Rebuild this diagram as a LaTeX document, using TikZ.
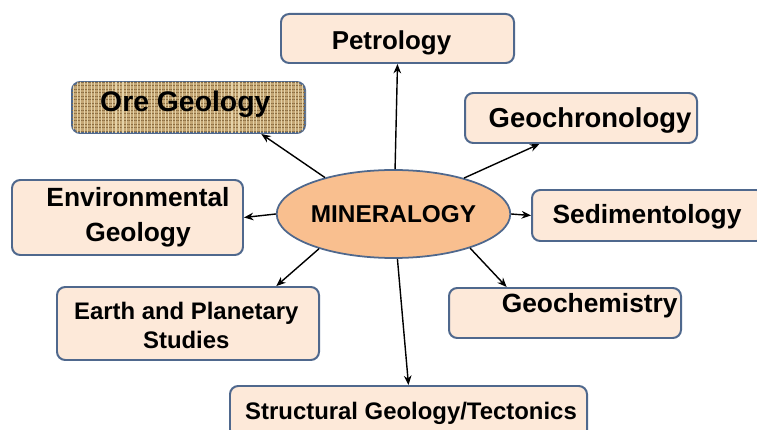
\documentclass[tikz,border=0pt]{standalone}
\usepackage{fontspec}
\setmainfont{Liberation Sans}
\usetikzlibrary{arrows.meta,shapes.geometric,patterns.meta}

\newlength\px
\setlength\px{0.03cm}

\definecolor{boxfill}{RGB}{253,233,217}
\definecolor{boxline}{RGB}{79,104,141}
\definecolor{ovalfill}{RGB}{249,191,143}
\definecolor{burlap}{RGB}{196,166,116}
\definecolor{burlapdark}{RGB}{140,110,66}
\definecolor{burlaplight}{RGB}{228,210,168}

\begin{document}
\begin{tikzpicture}[
  x=0.03cm, y=-0.03cm,
  topicbox/.style={rectangle, rounded corners=7pt, draw=boxline, line width=1.7pt, fill=boxfill, inner sep=0pt},
  orebox/.style={topicbox, fill=burlap,
    postaction={pattern={Lines[angle=0,distance=3pt,line width=0.9pt]}, pattern color=burlapdark},
    postaction={pattern={Lines[angle=90,distance=3pt,line width=0.9pt]}, pattern color=burlaplight}},
  centeroval/.style={ellipse, draw=boxline, line width=1.5pt, fill=ovalfill, inner sep=0pt,
    minimum width=195\px, minimum height=88\px, font=\bfseries\fontsize{20.8}{22}\selectfont},
  topictext/.style 2 args={font=\bfseries\fontsize{#1}{#2}\selectfont, align=center, inner sep=0pt},
  link/.style={-{Stealth[length=8pt,width=6.5pt]}, line width=1.2pt},
]
  \useasboundingbox (0,0) rectangle (757,430);
  \clip (0,0) rectangle (757,430);

  % boxes
  \node[topicbox, minimum width=233\px, minimum height=49\px] (petro) at (397.5,38.5) {};
  \node[orebox, minimum width=233\px, minimum height=51\px] (ore) at (188.5,107.5) {};
  \node[topicbox, minimum width=232\px, minimum height=50\px] (geochron) at (581,118) {};
  \node[topicbox, minimum width=231\px, minimum height=75\px] (env) at (127.5,217.5) {};
  \node[topicbox, minimum width=233\px, minimum height=51\px] (sed) at (648.5,215.5) {};
  \node[topicbox, minimum width=262\px, minimum height=73\px] (earth) at (188,323.5) {};
  \node[topicbox, minimum width=232\px, minimum height=50\px] (geochem) at (565,313) {};
  \node[topicbox, minimum width=357\px, minimum height=52\px] (struct) at (408.5,412) {};
  \node[centeroval] (mineral) at (393.5,214) {MINERALOGY};

  % labels
  \node[topictext={22.1}{23}] (petrotxt) at (391.5,42.5) {Petrology};
  \node[topictext={24.2}{25}] (oretxt) at (185.3,104.4) {Ore Geology};
  \node[topictext={23.4}{24}] (geochrontxt) at (590,120) {Geochronology};
  \node[topictext={22.5}{30}] (envtxt) at (138,217.6) {Environmental\\Geology};
  \node[topictext={22.5}{23}] (sedtxt) at (647,216.3) {Sedimentology};
  \node[topictext={20.4}{24.7}] (earthtxt) at (186.3,325.8) {Earth and Planetary\\Studies};
  \node[topictext={22.5}{23}] (geochemtxt) at (589.7,305.5) {Geochemistry};
  \node[topictext={20.4}{21}] (structtxt) at (411,413.5) {Structural Geology/Tectonics};

  % arrows
  \draw[link] (mineral.88) -- (petro.south);
  \draw[link] (mineral.152) -- (ore.-20.4);
  \draw[link] (mineral.27) -- (geochron.-148);
  \draw[link] (mineral.west) -- (env.east);
  \draw[link] (mineral.east) -- (sed.west);
  \draw[link] (mineral.-155) -- (earth.23);
  \draw[link] (mineral.-24) -- (geochem.156);
  \draw[link] (mineral.-85) -- (struct.north);
\end{tikzpicture}
\end{document}
